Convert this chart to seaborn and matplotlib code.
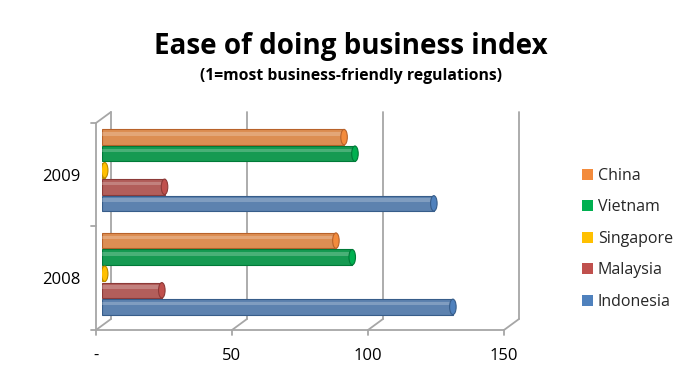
import matplotlib
matplotlib.use("Agg")
import matplotlib.pyplot as plt
import matplotlib.transforms as mtrans
import seaborn as sns
import pandas as pd
from matplotlib.patches import Patch, Rectangle, Ellipse
from matplotlib.lines import Line2D

years = ["2009", "2008"]
countries = ["China", "Vietnam", "Singapore", "Malaysia", "Indonesia"]
values_2009 = [89, 93, 1, 23, 122]
values_2008 = [86, 92, 1, 22, 129]
colors = ["#F38B3C", "#00B050", "#FFC000", "#C0504D", "#4F81BD"]
edge_colors = ["#B8622A", "#007A38", "#B88A00", "#8C3A38", "#375D8A"]
xticks = [0, 50, 100, 150]
xtick_labels = ["-", "50", "100", "150"]

rows = []
for c, v in zip(countries, values_2009):
    rows.append({"year": "2009", "country": c, "value": v})
for c, v in zip(countries, values_2008):
    rows.append({"year": "2008", "country": c, "value": v})
df = pd.DataFrame(rows)

sns.set_theme(style="white")
plt.rcParams["font.family"] = ["Open Sans", "DejaVu Sans"]

DPI = 100
fig = plt.figure(figsize=(6.78, 3.82), dpi=DPI)
ax = fig.add_axes([0.1504, 0.1479, 0.6018, 0.5419])

sns.barplot(data=df, y="year", x="value", hue="country", order=years,
            hue_order=countries, palette=colors, orient="h", width=0.8,
            gap=0.07, ax=ax, legend=False)

ax.set_xlim(0, 150)
ax.set_ylim(1.5, -0.5)

# cylinder look
for i, cont in enumerate(ax.containers):
    for bar in cont:
        bar.set_edgecolor(edge_colors[i])
        bar.set_linewidth(0.8)
        x0, y0 = bar.get_x(), bar.get_y()
        w, h = bar.get_width(), bar.get_height()
        ax.add_patch(Rectangle((x0, y0 + 0.18 * h), w, 0.22 * h,
                               facecolor="white", alpha=0.22, edgecolor="none",
                               zorder=bar.get_zorder() + 0.1))
        ax.add_patch(Ellipse((x0 + w, y0 + h / 2), 2.4, h,
                             facecolor=colors[i], edgecolor=edge_colors[i],
                             linewidth=0.8, zorder=bar.get_zorder() + 0.2))

for s in ax.spines.values():
    s.set_visible(False)
ax.grid(False)
ax.set_xlabel("")
ax.set_ylabel("")

# 3D-like frame: front plane and back plane offsets (pixels)
FDX, FDY = -6, -4.5
BDX, BDY = 9, 6.5
def off(dx, dy):
    return mtrans.ScaledTranslation(dx / DPI, dy / DPI, fig.dpi_scale_trans)
front = ax.transData + off(FDX, FDY)
back = ax.transData + off(BDX, BDY)
GRAY = "#A6A6A6"
LW = 1.3
ylo, yhi = ax.get_ylim()  # 1.5 (bottom), -0.5 (top)

def disp_line(p_a, t_a, p_b, t_b):
    a = fig.transFigure.inverted().transform(t_a.transform(p_a))
    b = fig.transFigure.inverted().transform(t_b.transform(p_b))
    fig.add_artist(Line2D([a[0], b[0]], [a[1], b[1]], color=GRAY, lw=LW,
                          transform=fig.transFigure, zorder=0.5))

for xv in xticks:
    ax.plot([xv, xv], [ylo, yhi], color=GRAY, lw=LW, transform=back,
            zorder=0.5, clip_on=False)
    disp_line((xv, ylo), back, (xv, ylo), front)
    disp_line((xv, ylo), front, (xv, ylo), front + off(0, -5))

ax.plot([0, 150], [ylo, ylo], color=GRAY, lw=LW, transform=front,
        zorder=0.5, clip_on=False)
ax.plot([0, 0], [ylo, yhi], color=GRAY, lw=LW, transform=front,
        zorder=0.5, clip_on=False)
disp_line((0, yhi), front, (0, yhi), back)
for yv in [yhi, 0.5, ylo]:
    disp_line((0, yv), front, (0, yv), front + off(-5, 0))

ax.set_xticks(xticks)
ax.set_xticklabels(xtick_labels, fontsize=12)
ax.tick_params(axis="x", pad=13, length=0, colors="black")
ax.tick_params(axis="y", pad=11, length=0, labelsize=12, colors="black")
for lab in ax.get_xticklabels() + ax.get_yticklabels():
    lab.set_transform(lab.get_transform() + off(FDX, FDY))

fig.text(0.517, 0.877, "Ease of doing business index", ha="center", va="center",
         fontsize=20, fontweight="bold", color="black")
fig.text(0.517, 0.802, "(1=most business-friendly regulations)", ha="center",
         va="center", fontsize=11.3, fontweight="bold", color="black")

handles = [Patch(facecolor=c, edgecolor="none") for c in colors]
fig.legend(handles, countries, loc="center left", bbox_to_anchor=(0.849, 0.375),
           frameon=False, fontsize=11.5, handlelength=0.7, handleheight=0.7,
           handletextpad=0.3, labelspacing=0.97, borderaxespad=0)

fig.savefig("out.png", dpi=DPI, facecolor="white")
